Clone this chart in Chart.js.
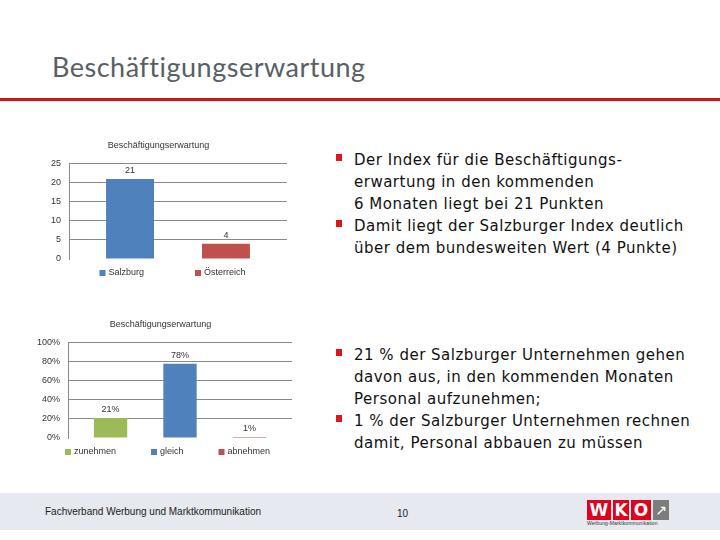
<!DOCTYPE html>
<html>
<head>
<meta charset="utf-8">
<script src="https://cdn.jsdelivr.net/npm/chart.js@4"></script>
<style>
  body { margin: 0; width: 720px; height: 540px; background: #fff; position: relative; overflow: hidden; font-family: "Liberation Sans", sans-serif; }
  .title { position: absolute; left: 52px; top: 50px; font-family: Lato, sans-serif; font-size: 27px; color: #585f66; letter-spacing: 0.5px; }
  .rule { position: absolute; left: 0; top: 98px; width: 720px; height: 3px; background: #c8161d; }
  .chart { position: absolute; }
  ul { position: absolute; margin: 0; padding: 0; list-style: none; font-family: "DejaVu Sans", sans-serif; font-size: 15px; letter-spacing: 0.5px; line-height: 22px; color: #111; }
  li { position: relative; }
  li::before { content: ""; position: absolute; left: -18px; top: 5px; width: 6px; height: 7px; background: #e1141c; }
  .footer { position: absolute; left: 0; top: 493px; width: 720px; height: 37px; background: #e6e9ef; }
  .foot-text { position: absolute; left: 45px; top: 506px; font-size: 10px; color: #222; }
  .page { position: absolute; left: 397px; top: 508px; font-size: 10px; color: #222; }
  .logo { position: absolute; left: 587px; top: 500px; height: 20px; display: flex; gap: 2px; }
  .logo div { background: #e2001a; color: #fff; font: bold 17px "DejaVu Sans", sans-serif; height: 20px; line-height: 20px; text-align: center; }
  .logo .arrow { background: #7c7c7c; width: 16px; color: #fff; font-size: 14px; font-weight: normal; }
  .logo-sub { position: absolute; left: 587px; top: 520px; font-size: 5px; color: #333; letter-spacing: 0.1px; }
</style>
</head>
<body>
<div class="title">Beschäftigungserwartung</div>
<div class="rule"></div>

<div class="chart" style="left:30px; top:132px; width:265px; height:152px;"><canvas id="chartIndex"></canvas></div>
<div class="chart" style="left:29px; top:311px; width:271px; height:152px;"><canvas id="chartShare"></canvas></div>

<ul style="left:354px; top:149px; width:366px;">
  <li>Der Index für die Beschäftigungs-<br>erwartung in den kommenden<br>6 Monaten liegt bei 21 Punkten</li>
  <li>Damit liegt der Salzburger Index deutlich<br>über dem bundesweiten Wert (4 Punkte)</li>
</ul>
<ul style="left:354px; top:344px; width:366px;">
  <li>21 % der Salzburger Unternehmen gehen<br>davon aus, in den kommenden Monaten<br>Personal aufzunehmen;</li>
  <li>1 % der Salzburger Unternehmen rechnen<br>damit, Personal abbauen zu müssen</li>
</ul>

<div class="footer"></div>
<div class="foot-text">Fachverband Werbung und Marktkommunikation</div>
<div class="page">10</div>
<div class="logo">
  <div style="width:24px;">W</div>
  <div style="width:16px;">K</div>
  <div style="width:20px;">O</div>
  <div class="arrow">&#8599;</div>
</div>
<div class="logo-sub">Werbung-Marktkommunikation</div>

<script>
const chartTitle = "Beschäftigungserwartung";

const regions = ["Salzburg", "Österreich"];
const regionValues = [21, 4];
const indexTicks = [0, 5, 10, 15, 20, 25];

const expectations = ["zunehmen", "gleich", "abnehmen"];
const expectationValues = [21, 78, 1];
const percentTicks = [0, 20, 40, 60, 80, 100];

const regionColors = ["#4f81bd", "#c0504d"];
const expectationColors = ["#9bbb59", "#4f81bd", "#c0504d"];

const fontSmall = { family: "Liberation Sans", size: 9 };

// draws the value above each bar
const valueLabels = {
  id: "valueLabels",
  afterDatasetsDraw(chart, args, opts) {
    const ctx = chart.ctx;
    ctx.save();
    ctx.font = "9px Liberation Sans";
    ctx.fillStyle = "#333";
    ctx.textAlign = "center";
    ctx.textBaseline = "bottom";
    chart.data.datasets.forEach((ds, i) => {
      chart.getDatasetMeta(i).data.forEach((bar, j) => {
        ctx.fillText(ds.data[j] + (opts.suffix || ""), bar.x, bar.y - 4);
      });
    });
    ctx.restore();
  }
};

// excel-like legend under the plot, items spaced wider than chart.js does
const wideLegend = {
  id: "wideLegend",
  afterDraw(chart, args, opts) {
    const ctx = chart.ctx;
    const area = chart.chartArea;
    ctx.save();
    ctx.font = "9px Liberation Sans";
    ctx.textBaseline = "middle";
    const items = chart.data.datasets.map(ds => ({ text: ds.label, color: ds.backgroundColor }));
    const widths = items.map(it => 10 + ctx.measureText(it.text).width);
    const total = widths.reduce((a, b) => a + b, 0) + opts.gap * (items.length - 1);
    let x = (area.left + area.right) / 2 + opts.shift - total / 2;
    const y = area.bottom + opts.offset;
    items.forEach((it, i) => {
      ctx.fillStyle = it.color;
      ctx.fillRect(x, y - 3, 6, 6);
      ctx.fillStyle = "#333";
      ctx.fillText(it.text, x + 9, y);
      x += widths[i] + opts.gap;
    });
    ctx.restore();
  }
};

const makeChart = (id, labels, values, colors, ticks, suffix, cat, barPct, legendGap, legendShift) => {
  new Chart(document.getElementById(id), {
    type: "bar",
    data: {
      labels: [""],
      datasets: labels.map((l, i) => ({
        label: l,
        data: [values[i]],
        backgroundColor: colors[i],
        borderWidth: 0,
        categoryPercentage: cat,
        barPercentage: barPct
      }))
    },
    options: {
      responsive: true,
      maintainAspectRatio: false,
      animation: false,
      layout: { padding: { left: 0, right: 8, bottom: 17 } },
      plugins: {
        title: { display: true, text: chartTitle, font: { ...fontSmall, weight: "normal" }, color: "#333", padding: { top: 8, bottom: 13 } },
        legend: { display: false },
        tooltip: { enabled: false },
        valueLabels: { suffix: suffix },
        wideLegend: { gap: legendGap, shift: legendShift, offset: 14 }
      },
      scales: {
        x: {
          ticks: { display: false },
          grid: { display: false },
          border: { display: false }
        },
        y: {
          min: ticks[0],
          max: ticks[ticks.length - 1],
          afterBuildTicks: s => { s.ticks = ticks.map(v => ({ value: v })); },
          afterFit: s => { s.width = 39; },
          ticks: { font: fontSmall, color: "#333", padding: 8, autoSkip: false, callback: v => v + suffix },
          grid: { color: c => c.tick && c.tick.value === 0 ? "rgba(0,0,0,0)" : "#8a8a8a", drawTicks: false },
          border: { display: true, color: "#8a8a8a" }
        }
      }
    },
    plugins: [valueLabels, wideLegend]
  });
};

makeChart("chartIndex", regions, regionValues, regionColors, indexTicks, "", 0.88, 0.5, 50, -5);
makeChart("chartShare", expectations, expectationValues, expectationColors, percentTicks, "%", 0.93, 0.48, 34, -12);
</script>
</body>
</html>
